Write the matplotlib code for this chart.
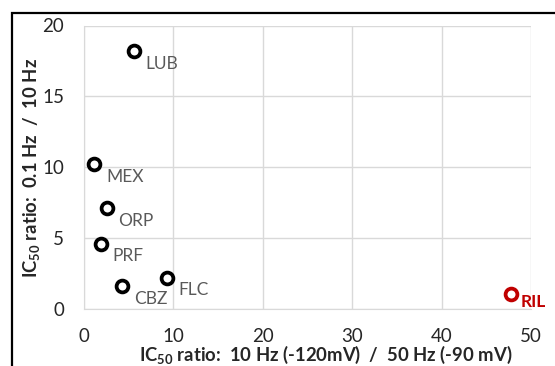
import matplotlib
matplotlib.use("Agg")
import matplotlib.pyplot as plt
from matplotlib.patches import Rectangle

# Data
drugs = ["LUB", "MEX", "ORP", "PRF", "CBZ", "FLC", "RIL"]
x_ratio = [5.6, 1.2, 2.6, 1.9, 4.35, 9.3, 47.8]
y_ratio = [18.2, 10.2, 7.1, 4.6, 1.6, 2.2, 1.05]
colors = ["black"] * 6 + ["#C00000"]
label_colors = ["#595959"] * 6 + ["#C00000"]
label_weights = ["normal"] * 6 + ["bold"]
x_ticks = [0, 10, 20, 30, 40, 50]
y_ticks = [0, 5, 10, 15, 20]

plt.rcParams["font.family"] = ["Lato", "DejaVu Sans"]
plt.rcParams["mathtext.fontset"] = "custom"
plt.rcParams["mathtext.rm"] = "Lato"
plt.rcParams["mathtext.bf"] = "Lato:bold"

W, H = 555, 366
fig = plt.figure(figsize=(W / 100, H / 100), dpi=100)
fig.patch.set_facecolor("white")

# outer frame (left/top visible)
fig.patches.append(Rectangle((12 / W, -0.1), 1.2, (H - 13) / H + 0.1,
                             transform=fig.transFigure, fill=False,
                             edgecolor="black", linewidth=1.6))

left, right, bottom, top = 83.5, 531, 309, 25.5
ax = fig.add_axes([left / W, (H - bottom) / H, (right - left) / W, (bottom - top) / H])
ax.set_xlim(0, 50)
ax.set_ylim(0, 20)
ax.set_xticks(x_ticks)
ax.set_yticks(y_ticks)
ax.grid(True, color="#D9D9D9", linewidth=1.0)
ax.set_axisbelow(True)
for s in ax.spines.values():
    s.set_visible(False)
ax.spines["bottom"].set_visible(True)
ax.spines["bottom"].set_color("#D9D9D9")
ax.spines["left"].set_visible(True)
ax.spines["left"].set_color("#D9D9D9")
ax.tick_params(length=0, labelsize=13.5, colors="#262626")
ax.tick_params(axis="x", pad=14)
ax.tick_params(axis="y", pad=14)

for d, xv, yv, c, lc, lw in zip(drugs, x_ratio, y_ratio, colors, label_colors, label_weights):
    ax.plot([xv], [yv], marker="o", markersize=8.5, markerfacecolor="white",
            markeredgecolor=c, markeredgewidth=2.7, linestyle="none", clip_on=False, zorder=3)
    off = (7, -6) if d == "RIL" else (8.5, -9)
    ax.annotate(d, (xv, yv), xytext=off, textcoords="offset points",
                ha="left", va="center", fontsize=12.5, color=lc, fontweight=lw)

fig.text(326 / W, 1 - 355 / H,
         r"IC$_{\mathbf{50}}$ ratio:  10 Hz (-120mV)  /  50 Hz (-90 mV)",
         ha="center", va="center", fontsize=13.3, fontweight="bold", color="#262626")
fig.text(32 / W, 1 - 168 / H,
         r"IC$_{\mathbf{50}}$ ratio:  0.1 Hz  /  10 Hz",
         ha="center", va="center", rotation=90, fontsize=13.3, fontweight="bold", color="#262626")

fig.savefig("out.png", dpi=100)
